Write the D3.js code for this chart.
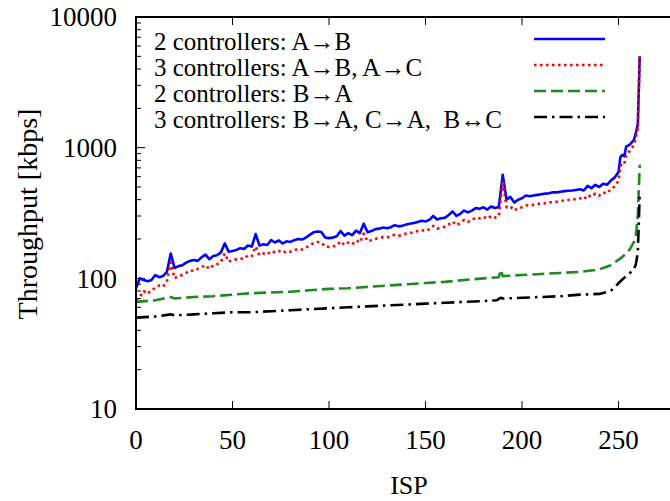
<!DOCTYPE html>
<html>
<head>
<meta charset="utf-8">
<script src="https://cdn.jsdelivr.net/npm/d3@7"></script>
<style>
  body { margin: 0; background: #fff; }
  svg { display: block; }
  text { font-family: 'Liberation Serif', 'Times New Roman', serif; fill: #000; }
</style>
</head>
<body>
<div id="chart"></div>
<script>
// ISP index (x) for the two A->B series: every 2nd ISP, then every point near the end
const ispStep = d3.range(0, 250, 2);
const ispTail = [250, 251, 252, 253, 254, 256, 258, 259, 260, 261];
const ispAB = ispStep.concat(ispTail);

// 2 controllers: A->B
const ctrl2AB = [
  84, 100, 97, 95, 97, 106, 102, 104, 112, 155,
  120, 124, 126, 132, 136, 138, 136, 145, 152, 140,
  148, 150, 158, 185, 160, 162, 165, 170, 168, 178,
  175, 218, 178, 182, 180, 196, 188, 195, 185, 192,
  190, 196, 200, 198, 205, 215, 225, 228, 226, 205,
  203, 205, 210, 230, 212, 222, 214, 232, 222, 262,
  225, 230, 238, 240, 245, 242, 246, 255, 250, 252,
  258, 262, 265, 270, 276, 272, 280, 300, 282, 288,
  290, 305, 325, 300, 312, 330, 320, 330, 345, 340,
  350, 336, 355, 345, 352, 620, 400, 420, 380, 400,
  410, 430, 425, 430, 435, 440, 445, 448, 455, 455,
  460, 465, 468, 470, 475, 480, 470, 510, 490, 520,
  500, 530, 520, 560, 590,
  650, 850, 880, 860, 1020, 1060, 1150, 1300, 1500, 5000
];

// 3 controllers: A->B, A->C
const ctrl3AB = [
  68, 72, 80, 76, 82, 84, 88, 86, 95, 132,
  100, 104, 106, 110, 115, 114, 118, 122, 126, 118,
  126, 128, 133, 155, 134, 138, 140, 142, 141, 150,
  148, 175, 150, 155, 152, 162, 158, 162, 156, 162,
  160, 164, 168, 166, 172, 178, 186, 190, 188, 175,
  174, 176, 178, 192, 180, 188, 182, 195, 188, 220,
  192, 196, 200, 204, 206, 205, 210, 215, 212, 215,
  220, 222, 226, 230, 234, 230, 238, 252, 240, 245,
  248, 258, 272, 255, 264, 280, 270, 280, 292, 288,
  296, 285, 300, 292, 300, 560, 350, 355, 330, 345,
  350, 362, 360, 365, 370, 372, 376, 380, 385, 386,
  390, 395, 398, 400, 405, 410, 400, 435, 420, 445,
  430, 455, 445, 480, 505,
  560, 720, 760, 750, 880, 950, 1050, 1200, 1400, 5000
];

// 2 controllers: B->A
const ispBA2 = [0, 10, 18, 20, 30, 40, 50, 60, 70, 80, 90, 100, 110, 120, 130, 140, 150, 160, 170, 180, 188, 189, 190, 200, 210, 220, 230, 240, 246, 251, 254, 256, 258, 259, 260, 261];
const ctrl2BA = [66, 68, 72, 70, 72, 73, 75, 77, 78, 79, 81, 83, 84, 86, 88, 90, 92, 94, 97, 100, 102, 116, 104, 106, 108, 110, 112, 117, 126, 142, 155, 168, 190, 215, 300, 740];

// 3 controllers: B->A, C->A, B<->C
const ispBA3 = [0, 10, 18, 20, 30, 40, 50, 60, 70, 80, 90, 100, 110, 120, 130, 140, 150, 160, 170, 180, 187, 189, 190, 200, 210, 220, 230, 240, 246, 251, 254, 256, 258, 259, 260, 261];
const ctrl3BA = [50, 51, 53, 52, 53, 54, 55, 55, 56, 57, 58, 59, 60, 61, 62, 63, 64, 65, 66, 67, 68, 71, 70, 71, 72, 73, 75, 76, 80, 95, 104, 110, 118, 128, 158, 440];

const xTicks = [0, 50, 100, 150, 200, 250];
const yTicks = [10, 100, 1000, 10000];

const series = [
  { name: '2 controllers: A\u2192B', xs: ispAB, ys: ctrl2AB, color: '#0000ff', width: 2.6, dash: null },
  { name: '3 controllers: A\u2192B, A\u2192C', xs: ispAB, ys: ctrl3AB, color: '#ff0000', width: 2.6, dash: '2.5,3.5' },
  { name: '2 controllers: B\u2192A', xs: ispBA2, ys: ctrl2BA, color: '#1f8a1f', width: 2.6, dash: '12,5' },
  { name: '3 controllers: B\u2192A, C\u2192A,  B\u2194C', xs: ispBA3, ys: ctrl3BA, color: '#000000', width: 2.6, dash: '13,5,2.5,5' },
];

const W = 670;
const H = 501;
const margin = { left: 136, top: 17, bottom: 92 };
const plotH = H - margin.top - margin.bottom;
const plotW = 579;

const svg = d3.select('#chart').append('svg')
  .attr('width', W)
  .attr('height', H);

// x range runs to 300, past the right edge of the picture
const x = d3.scaleLinear().domain([0, 300]).range([margin.left, margin.left + plotW]);
const y = d3.scaleLog().domain([10, 10000]).range([margin.top + plotH, margin.top]);

const tickFont = 27;
const legendFont = 25;

// minor ticks on the log axis
const minor = [];
for (let dec = 10; dec < 10000; dec *= 10) {
  for (let k = 2; k <= 9; k++) minor.push(dec * k);
}

const g = svg.append('g');

g.selectAll('.ymin')
  .data(minor)
  .enter().append('line')
  .attr('x1', margin.left).attr('x2', margin.left + 5)
  .attr('y1', (d) => y(d)).attr('y2', (d) => y(d))
  .attr('stroke', '#000').attr('stroke-width', 1);

g.selectAll('.ymaj')
  .data(yTicks)
  .enter().append('line')
  .attr('x1', margin.left).attr('x2', margin.left + 9)
  .attr('y1', (d) => y(d)).attr('y2', (d) => y(d))
  .attr('stroke', '#000').attr('stroke-width', 1);

g.selectAll('.ylab')
  .data(yTicks)
  .enter().append('text')
  .attr('x', margin.left - 19)
  .attr('y', (d) => y(d))
  .attr('dy', '0.35em')
  .attr('text-anchor', 'end')
  .attr('font-size', tickFont)
  .text((d) => d);

// x ticks, bottom and mirrored at the top
g.selectAll('.xtb')
  .data(xTicks)
  .enter().append('line')
  .attr('x1', (d) => x(d)).attr('x2', (d) => x(d))
  .attr('y1', margin.top + plotH).attr('y2', margin.top + plotH - 8)
  .attr('stroke', '#000').attr('stroke-width', 1);

g.selectAll('.xtt')
  .data(xTicks)
  .enter().append('line')
  .attr('x1', (d) => x(d)).attr('x2', (d) => x(d))
  .attr('y1', margin.top).attr('y2', margin.top + 8)
  .attr('stroke', '#000').attr('stroke-width', 1);

g.selectAll('.xlab')
  .data(xTicks)
  .enter().append('text')
  .attr('x', (d) => x(d))
  .attr('y', margin.top + plotH + 31)
  .attr('dy', '0.35em')
  .attr('text-anchor', 'middle')
  .attr('font-size', tickFont)
  .text((d) => d);

// data lines
const line = d3.line()
  .x((d) => x(d[0]))
  .y((d) => y(d[1]));

series.forEach((s) => {
  g.append('path')
    .datum(d3.zip(s.xs, s.ys))
    .attr('fill', 'none')
    .attr('stroke', s.color)
    .attr('stroke-width', s.width)
    .attr('stroke-linejoin', 'round')
    .attr('stroke-dasharray', s.dash)
    .attr('d', line);
});

// frame
g.append('rect')
  .attr('x', margin.left)
  .attr('y', margin.top)
  .attr('width', plotW)
  .attr('height', plotH)
  .attr('fill', 'none')
  .attr('stroke', '#000')
  .attr('stroke-width', 2);

// legend
const legend = g.append('g');
series.forEach((s, i) => {
  const ly = 41 + i * 26;
  legend.append('text')
    .attr('x', 154)
    .attr('y', ly)
    .attr('dy', '0.35em')
    .attr('font-size', legendFont)
    .attr('xml:space', 'preserve')
    .style('white-space', 'pre')
    .text(s.name);
  legend.append('line')
    .attr('x1', 534).attr('x2', 605)
    .attr('y1', ly - 2).attr('y2', ly - 2)
    .attr('stroke', s.color)
    .attr('stroke-width', s.width)
    .attr('stroke-dasharray', s.dash);
});

// axis titles
g.append('text')
  .attr('x', margin.left + 273)
  .attr('y', 485)
  .attr('dy', '0.35em')
  .attr('text-anchor', 'middle')
  .attr('font-size', 26)
  .text('ISP');

g.append('text')
  .attr('transform', `translate(27, ${214}) rotate(-90)`)
  .attr('dy', '0.35em')
  .attr('text-anchor', 'middle')
  .attr('font-size', 28)
  .text('Throughput [kbps]');
</script>
</body>
</html>
